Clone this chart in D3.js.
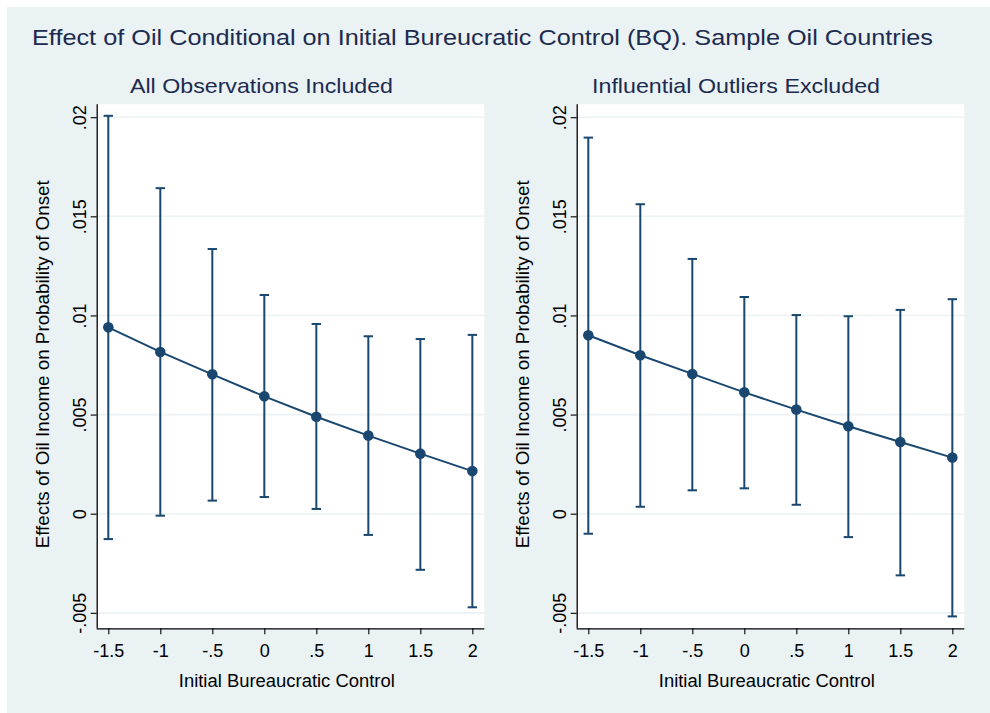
<!DOCTYPE html>
<html>
<head>
<meta charset="utf-8">
<script src="https://cdn.jsdelivr.net/npm/d3@7"></script>
<style>
  html, body { margin: 0; padding: 0; background: #ffffff; }
  svg { display: block; }
  text { font-family: "Liberation Sans", Arial, sans-serif; }
</style>
</head>
<body>
<svg id="chart" width="990" height="713"></svg>
<script>
// Initial bureaucratic quality levels at which the marginal effect is evaluated
const bqLevels = [-1.5, -1, -0.5, 0, 0.5, 1, 1.5, 2];
const xTickLabels = ["-1.5", "-1", "-.5", "0", ".5", "1", "1.5", "2"];

// All observations included: marginal effect with 95% bounds
const allEffect = [0.0094, 0.00816, 0.00703, 0.00592, 0.00489, 0.00394, 0.00303, 0.00215];
const allLower  = [-0.00128, -0.0001, 0.00066, 0.00084, 0.00024, -0.00107, -0.00283, -0.00472];
const allUpper  = [0.02007, 0.01642, 0.01335, 0.01103, 0.00957, 0.00895, 0.00881, 0.00902];

// Influential outliers excluded: marginal effect with 95% bounds
const trimEffect = [0.009, 0.00799, 0.00705, 0.00612, 0.00525, 0.00441, 0.00362, 0.00283];
const trimLower  = [-0.00101, 0.00035, 0.00118, 0.00128, 0.00045, -0.00118, -0.00311, -0.00518];
const trimUpper  = [0.01897, 0.01561, 0.01285, 0.01093, 0.01002, 0.00996, 0.01028, 0.01082];

const yTicks = [-0.005, 0, 0.005, 0.01, 0.015, 0.02];
const yTickLabels = ["-.005", "0", ".005", ".01", ".015", ".02"];

const mainTitle = "Effect of Oil Conditional on Initial Bureucratic Control (BQ). Sample Oil Countries";
const panelTitles = ["All Observations Included", "Influential Outliers Excluded"];
const xTitle = "Initial Bureaucratic Control";
const yTitle = "Effects of Oil Income on Probability of Onset";

const navy = "#1a476f";
const bgColor = "#eaf2f3";
const titleColor = "#1c2b4f";

const svg = d3.select("#chart");

// graph region
svg.append("rect")
  .attr("x", 7).attr("y", 7)
  .attr("width", 983).attr("height", 706)
  .attr("fill", bgColor);

svg.append("text")
  .attr("x", 32).attr("y", 44.5)
  .attr("font-size", 22.5)
  .attr("fill", titleColor)
  .attr("textLength", 901)
  .attr("lengthAdjust", "spacingAndGlyphs")
  .text(mainTitle);

const plotW = 387.6, plotH = 524;
const x = d3.scaleLinear().domain([-1.6115, 2.115]).range([0, plotW]);
const y = d3.scaleLinear().domain([-0.00578, 0.02065]).range([plotH, 0]);

const panels = [
  { left: 96.7, title: panelTitles[0], titleX: 130, titleLen: 263,
    effect: allEffect, lower: allLower, upper: allUpper },
  { left: 576.7, title: panelTitles[1], titleX: 592, titleLen: 288,
    effect: trimEffect, lower: trimLower, upper: trimUpper }
];

panels.forEach(p => {
  const g = svg.append("g").attr("transform", `translate(${p.left},104.3)`);

  // subtitle
  svg.append("text")
    .attr("x", p.titleX).attr("y", 92.7)
    .attr("font-size", 21)
    .attr("fill", titleColor)
    .attr("textLength", p.titleLen)
    .attr("lengthAdjust", "spacingAndGlyphs")
    .text(p.title);

  // plot region
  g.append("rect")
    .attr("width", plotW).attr("height", plotH)
    .attr("fill", "#ffffff");

  // horizontal grid
  g.selectAll("line.grid")
    .data(yTicks)
    .join("line")
    .attr("class", "grid")
    .attr("x1", 0).attr("x2", plotW)
    .attr("y1", d => y(d)).attr("y2", d => y(d))
    .attr("stroke", bgColor)
    .attr("stroke-width", 1.6);

  // y axis
  const yAxis = d3.axisLeft(y)
    .tickValues(yTicks)
    .tickFormat((d, i) => yTickLabels[i])
    .tickSize(6)
    .tickSizeOuter(0);
  const ya = g.append("g").call(yAxis);
  ya.select(".domain").attr("stroke", "#000").attr("stroke-width", 1.3)
    .attr("d", `M0.5,0V${plotH}`);
  ya.selectAll(".tick line").attr("stroke", "#000").attr("stroke-width", 1.1);
  ya.selectAll(".tick text")
    .attr("transform", "rotate(-90)")
    .attr("x", 0).attr("y", -10.7).attr("dy", 0)
    .attr("text-anchor", "middle")
    .attr("font-size", 18)
    .attr("fill", "#000");

  // x axis
  const xAxis = d3.axisBottom(x)
    .tickValues(bqLevels)
    .tickFormat((d, i) => xTickLabels[i])
    .tickSize(6)
    .tickSizeOuter(0);
  const xa = g.append("g").attr("transform", `translate(0,${plotH})`).call(xAxis);
  xa.select(".domain").attr("stroke", "#000").attr("stroke-width", 1.3)
    .attr("d", `M0,0.5H${plotW}`);
  xa.selectAll(".tick line").attr("stroke", "#000").attr("stroke-width", 1.1);
  xa.selectAll(".tick text")
    .attr("y", 28.6).attr("dy", 0)
    .attr("font-size", 18)
    .attr("fill", "#000");

  // axis titles
  g.append("text")
    .attr("x", plotW / 2 - 3.7).attr("y", plotH + 58.4)
    .attr("text-anchor", "middle")
    .attr("font-size", 17.5)
    .attr("fill", "#000")
    .attr("textLength", 216)
    .attr("lengthAdjust", "spacingAndGlyphs")
    .text(xTitle);

  g.append("text")
    .attr("transform", `translate(-47.7,${plotH / 2 - 2}) rotate(-90)`)
    .attr("text-anchor", "middle")
    .attr("font-size", 17.5)
    .attr("fill", "#000")
    .attr("textLength", 368)
    .attr("lengthAdjust", "spacingAndGlyphs")
    .text(yTitle);

  const pts = bqLevels.map((v, i) => ({ bq: v, est: p.effect[i], lo: p.lower[i], hi: p.upper[i] }));

  // confidence intervals with caps
  const ci = g.append("g").attr("stroke", navy).attr("fill", "none");
  ci.selectAll("line.bar").data(pts).join("line")
    .attr("class", "bar")
    .attr("x1", d => x(d.bq)).attr("x2", d => x(d.bq))
    .attr("y1", d => y(d.lo)).attr("y2", d => y(d.hi))
    .attr("stroke-width", 2);
  ci.selectAll("line.capHi").data(pts).join("line")
    .attr("class", "capHi")
    .attr("x1", d => x(d.bq) - 4.7).attr("x2", d => x(d.bq) + 4.7)
    .attr("y1", d => y(d.hi)).attr("y2", d => y(d.hi))
    .attr("stroke-width", 2);
  ci.selectAll("line.capLo").data(pts).join("line")
    .attr("class", "capLo")
    .attr("x1", d => x(d.bq) - 4.7).attr("x2", d => x(d.bq) + 4.7)
    .attr("y1", d => y(d.lo)).attr("y2", d => y(d.lo))
    .attr("stroke-width", 2);

  // estimate line and markers
  g.append("path")
    .datum(pts)
    .attr("fill", "none")
    .attr("stroke", navy)
    .attr("stroke-width", 2)
    .attr("d", d3.line().x(d => x(d.bq)).y(d => y(d.est)));

  g.selectAll("circle.pt").data(pts).join("circle")
    .attr("class", "pt")
    .attr("cx", d => x(d.bq)).attr("cy", d => y(d.est))
    .attr("r", 5.3)
    .attr("fill", navy);
});
</script>
</body>
</html>
